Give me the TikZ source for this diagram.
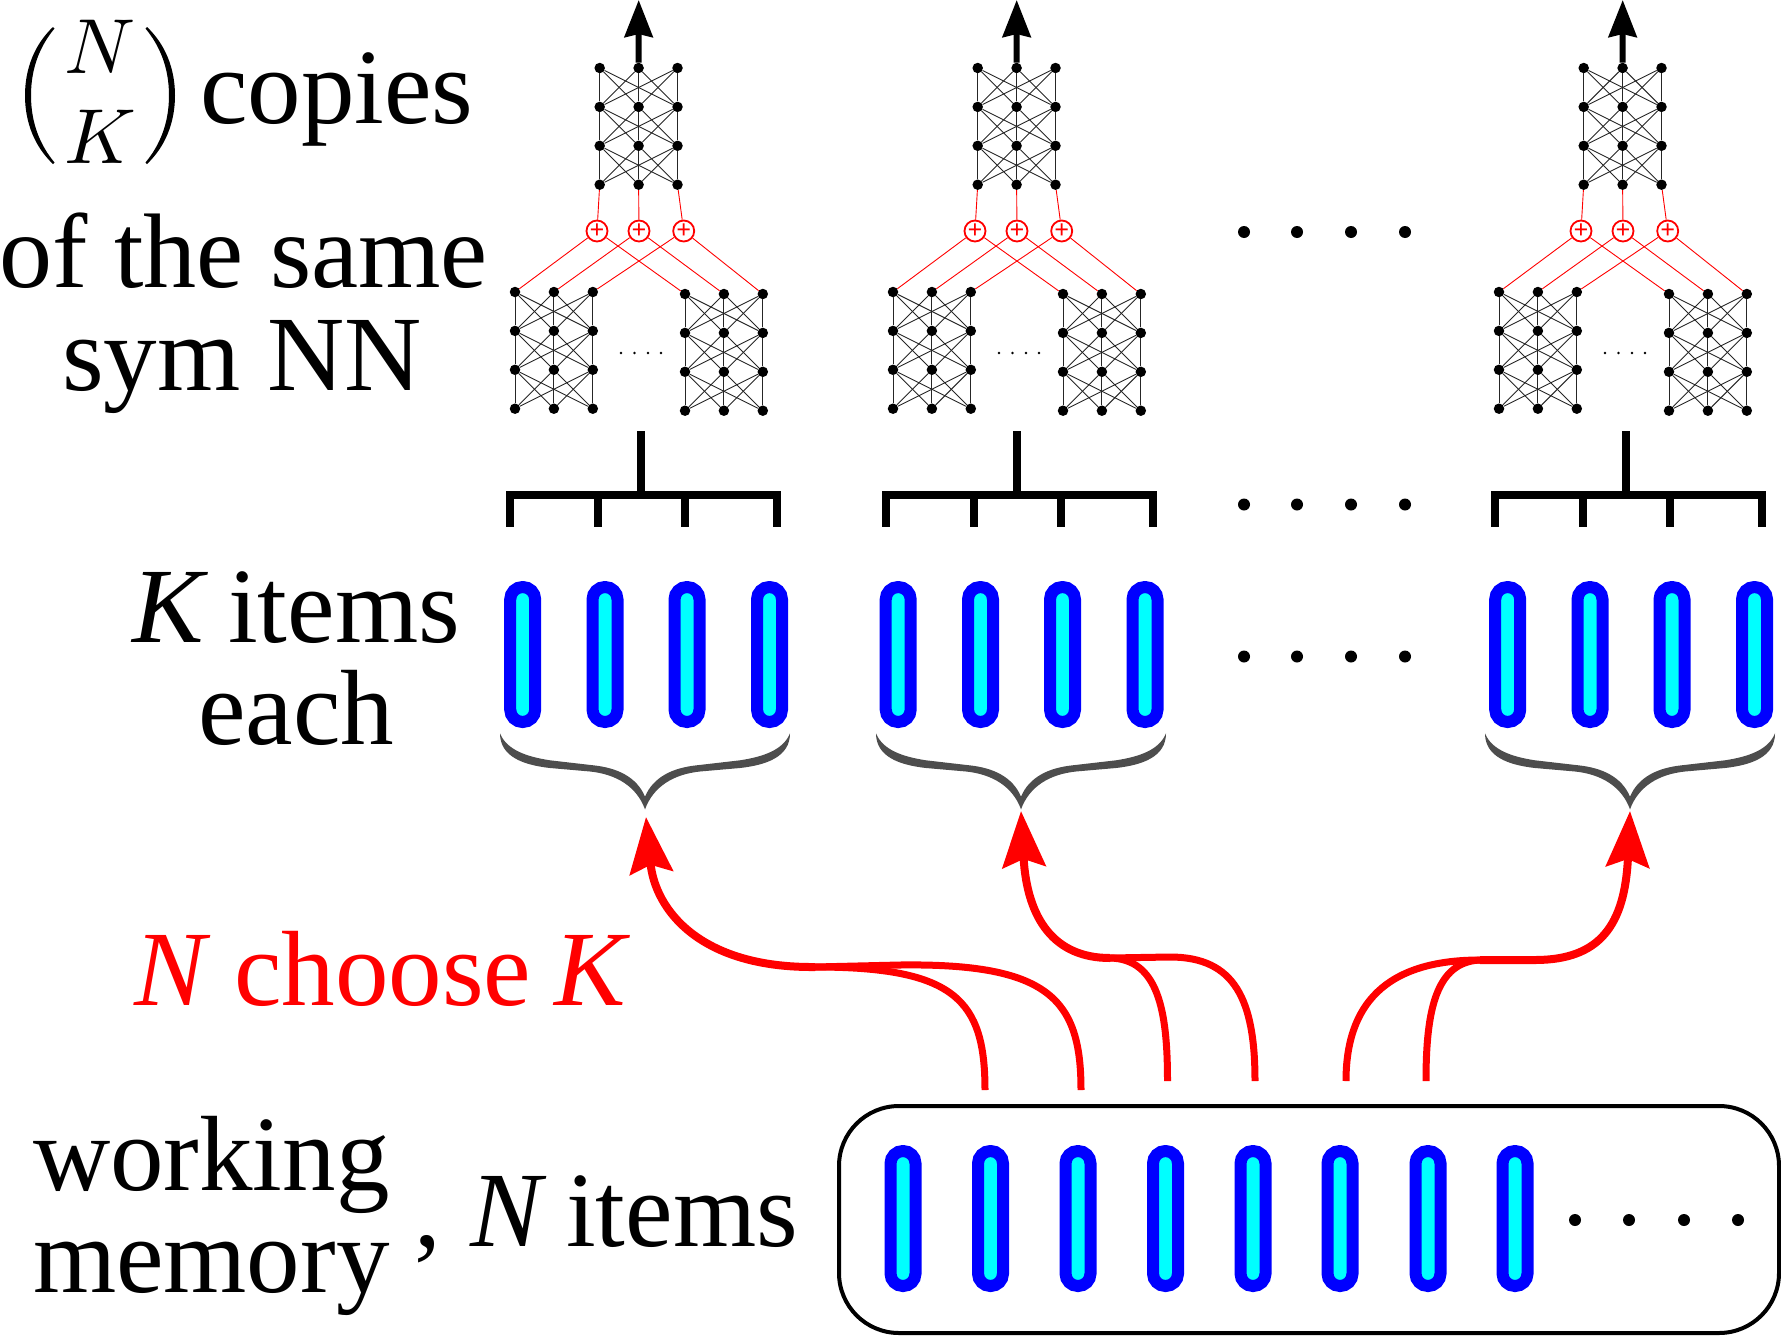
\documentclass[tikz,border=0pt]{standalone}
\usepackage{graphicx}
\usepackage{fontspec}
\setmainfont{Liberation Serif}
\usetikzlibrary{arrows.meta}
\definecolor{bracegray}{HTML}{4D4D4D}
\definecolor{itemcyan}{RGB}{0,255,255}
\definecolor{itemblue}{RGB}{0,0,255}
\definecolor{arrowred}{RGB}{255,0,0}
\tikzset{
  x=1pt,y=-1pt,
  txt/.style={inner sep=0pt,outer sep=0pt,font=\fontsize{107}{107}\selectfont},
  binomtxt/.style={inner sep=0pt,outer sep=0pt},
  nndot/.style={circle,fill=black,inner sep=0pt,minimum size=10.5pt},
  nnline/.style={line width=0.9pt,black!85},
  plusnode/.style={circle,draw=arrowred,line width=1.8pt,fill=white,minimum size=21pt,inner sep=0pt,text=arrowred,font=\fontsize{26}{26}\selectfont\bfseries},
  redline/.style={arrowred,line width=0.9pt},
  pill/.style={rectangle,rounded corners=12.4pt,draw=itemblue,fill=itemcyan,line width=12pt,minimum width=25pt,minimum height=135pt,inner sep=0pt,outer sep=0pt},
  bigdot/.style={circle,fill=black,inner sep=0pt,minimum size=12pt},
  smalldot/.style={circle,fill=black,inner sep=0pt,minimum size=2.6pt},
  busline/.style={line width=8pt,black},
  strand/.style={arrowred,line width=7pt},
  merged/.style={arrowred,line width=8pt},
  outarrow/.style={line width=6pt,-{Stealth[length=37pt,width=28pt,inset=3pt]}},
  redarrow/.style={merged,-{Stealth[length=56pt,width=43pt,inset=8pt]}},
}
% #1 prefix, #2 x of first column, #3 y of first row
\newcommand{\nnet}[3]{
  \foreach \rw in {1,2,3,4}{
    \foreach \cl in {1,2,3}{
      \pgfmathsetmacro{\xx}{#2+(\cl-1)*38.9}
      \pgfmathsetmacro{\yy}{#3+(\rw-1)*38.9}
      \node[nndot] (#1-\rw-\cl) at (\xx,\yy) {};
    }
  }
  \foreach \rw/\nx in {1/2,2/3,3/4}{
    \foreach \cl in {1,2,3}{
      \foreach \dl in {1,2,3}{
        \draw[nnline] (#1-\rw-\cl) -- (#1-\nx-\dl);
      }
    }
  }
}
% #1 prefix, #2 x offset for the network, #3 x offset for the bus, #4 x for pills, #5 brace
\newcommand{\nngroup}[5]{
  \nnet{#1t}{599.7+#2}{68}
  \nnet{#1l}{515+#2}{292}
  \nnet{#1r}{685+#2}{294}
  \node[plusnode] (#1p1) at (597+#2,231) {+};
  \node[plusnode] (#1p2) at (639+#2,231) {+};
  \node[plusnode] (#1p3) at (683.7+#2,231) {+};
  \foreach \kk in {1,2,3}{
    \draw[redline] (#1t-4-\kk) -- (#1p\kk);
    \draw[redline] (#1p\kk) -- (#1l-1-\kk);
    \draw[redline] (#1p\kk) -- (#1r-1-\kk);
  }
  \foreach \kk/\dx in {1/621,2/634.5,3/648,4/661}{
    \node[smalldot] (#1d\kk) at (\dx+#2,353) {};
  }
  % bus
  \coordinate (#1bt) at (641+#3,431);
  \coordinate (#1bm) at (641+#3,495);
  \coordinate (#1b1) at (510+#3,495);
  \coordinate (#1b2) at (598+#3,495);
  \coordinate (#1b3) at (685+#3,495);
  \coordinate (#1b4) at (777+#3,495);
  \draw[busline] (#1bt) -- (#1bm);
  \draw[busline] ([xshift=-4pt]#1b1) -- ([xshift=4pt]#1b4);
  \foreach \kk in {1,2,3,4}{
    \draw[busline] (#1b\kk) -- ++(0,32);
  }
  % pills
  \node[pill] (#1a1) at (522.7+#4,654.5) {};
  \node[pill] (#1a2) at (605+#4,654.5) {};
  \node[pill] (#1a3) at (687+#4,654.5) {};
  \node[pill] (#1a4) at (769.5+#4,654.5) {};
  % brace
  \foreach \sg in {1,-1}{
    \fill[bracegray,shift={(645+#5,0)},xscale=\sg]
      (-145,733.3) .. controls (-138.3,750) and (-118.3,756.7) .. (-95,760.3)
      -- (-51.7,765.3) .. controls (-28.3,767.7) and (-8.3,776.7) .. (0,796.7)
      -- (0,809.3) .. controls (-8.3,786.7) and (-28.3,774.3) .. (-55,771.5)
      -- (-95,768) .. controls (-121.7,765) and (-145,756.7) .. (-145,733.3) -- cycle;
  }
}
\begin{document}
\begin{tikzpicture}
\useasboundingbox (0,0) rectangle (1781,1336);
\nngroup{a}{0}{0}{0}{0}
\nngroup{b}{378}{376}{375.5}{376}
\nngroup{c}{984}{985}{985}{985}
\foreach \g/\xx in {a/638.7,b/1016.7,c/1622.7}{
  \coordinate (\g top) at (\xx,0);
  \draw[outarrow] (\g t-1-2) -- (\g top);
}
% ellipsis rows between groups
\foreach \rw/\yy in {1/232,2/504.5,3/656.5}{
  \foreach \kk/\xx in {1/1244,2/1297,3/1351,4/1405}{
    \node[bigdot] (e\rw\kk) at (\xx,\yy) {};
  }
}
% working memory
\node[draw=black,line width=4pt,rounded corners=60pt,minimum width=940pt,minimum height=227pt,inner sep=0pt] (mem) at (1309,1219.5) {};
\foreach \kk/\xx in {1/903,2/990.5,3/1078,4/1165.5,5/1253,6/1340,7/1428,8/1515}{
  \node[pill] (m\kk) at (\xx,1218.5) {};
}
\foreach \kk/\xx in {1/1575,2/1629,3/1684,4/1738}{
  \node[bigdot] (md\kk) at (\xx,1220) {};
}
% red routes
\coordinate (s1) at (985,1090);
\coordinate (s2) at (1081,1090);
\coordinate (s3) at (1167.5,1081);
\coordinate (s4) at (1255,1081);
\coordinate (s5) at (1346,1081);
\coordinate (s6) at (1426,1081);
\coordinate (j1) at (815,967);
\coordinate (j2) at (1110,958);
\coordinate (j3) at (1480,960);
\coordinate (k3) at (1535,960);
\coordinate (h1) at (646,817);
\coordinate (h2) at (1021,811);
\coordinate (h3) at (1630,811);
\draw[strand] (s1) .. controls (985,1000) and (955,967) .. (j1);
\draw[strand] (s2) .. controls (1081,1000) and (1050,963) .. (900,965) -- (j1);
\draw[redarrow] (j1) .. controls (700,968) and (655,910) .. (h1);
\draw[strand] (s3) .. controls (1167.5,1010) and (1158,959) .. (j2);
\draw[strand] (s4) .. controls (1255,1000) and (1235,957) .. (1170,957) -- (j2);
\draw[redarrow] (j2) .. controls (1055,958) and (1027,920) .. (h2);
\draw[strand] (s5) .. controls (1346,1005) and (1385,960) .. (j3);
\draw[strand] (s6) .. controls (1426,1010) and (1436,962) .. (j3);
\draw[redarrow] (j3) -- (k3) .. controls (1600,960) and (1625,925) .. (h3);
% text
\node[txt,anchor=base west] (t1) at (200,123) {copies};
\node[binomtxt,anchor=base] (bn) at (100,73) {\scalebox{7.8}{$N$}};
\node[binomtxt,anchor=base] (bk) at (100,163) {\scalebox{7.8}{$K$}};
\fill (53,27) .. controls (35,44) and (25,68) .. (25,95.5) .. controls (25,123) and (35,147) .. (53,164)
  -- (54.5,162.5) .. controls (40,145) and (31,123) .. (31,95.5) .. controls (31,68) and (40,46) .. (54.5,28.5) -- cycle;
\fill (147,27) .. controls (165,44) and (175,68) .. (175,95.5) .. controls (175,123) and (165,147) .. (147,164)
  -- (145.5,162.5) .. controls (160,145) and (169,123) .. (169,95.5) .. controls (169,68) and (160,46) .. (145.5,28.5) -- cycle;
\node[txt,anchor=base,font=\fontsize{106}{106}\selectfont] (t2) at (243.5,287) {of the same};
\node[txt,anchor=base] (t3) at (242,390) {sym NN};
\node[txt,anchor=base east] (t4) at (460,642) {\textit{K}\hspace{-7pt} items};
\node[txt,anchor=base] (t5) at (296,744) {each};
\node[txt,anchor=base west] (t6) at (33,1190) {working};
\node[txt,anchor=base west] (t7) at (33,1292) {memory};
\node[txt,anchor=base west] (t8) at (414,1246) {,};
\node[txt,anchor=base east] (t9) at (798,1246) {\textit{N}\hspace{-7pt} items};
\node[txt,anchor=base,text=arrowred] (t10) at (382.5,1005) {\textit{N}\hspace{-3pt} choose\hspace{-3pt} \textit{K}};
\end{tikzpicture}
\end{document}
